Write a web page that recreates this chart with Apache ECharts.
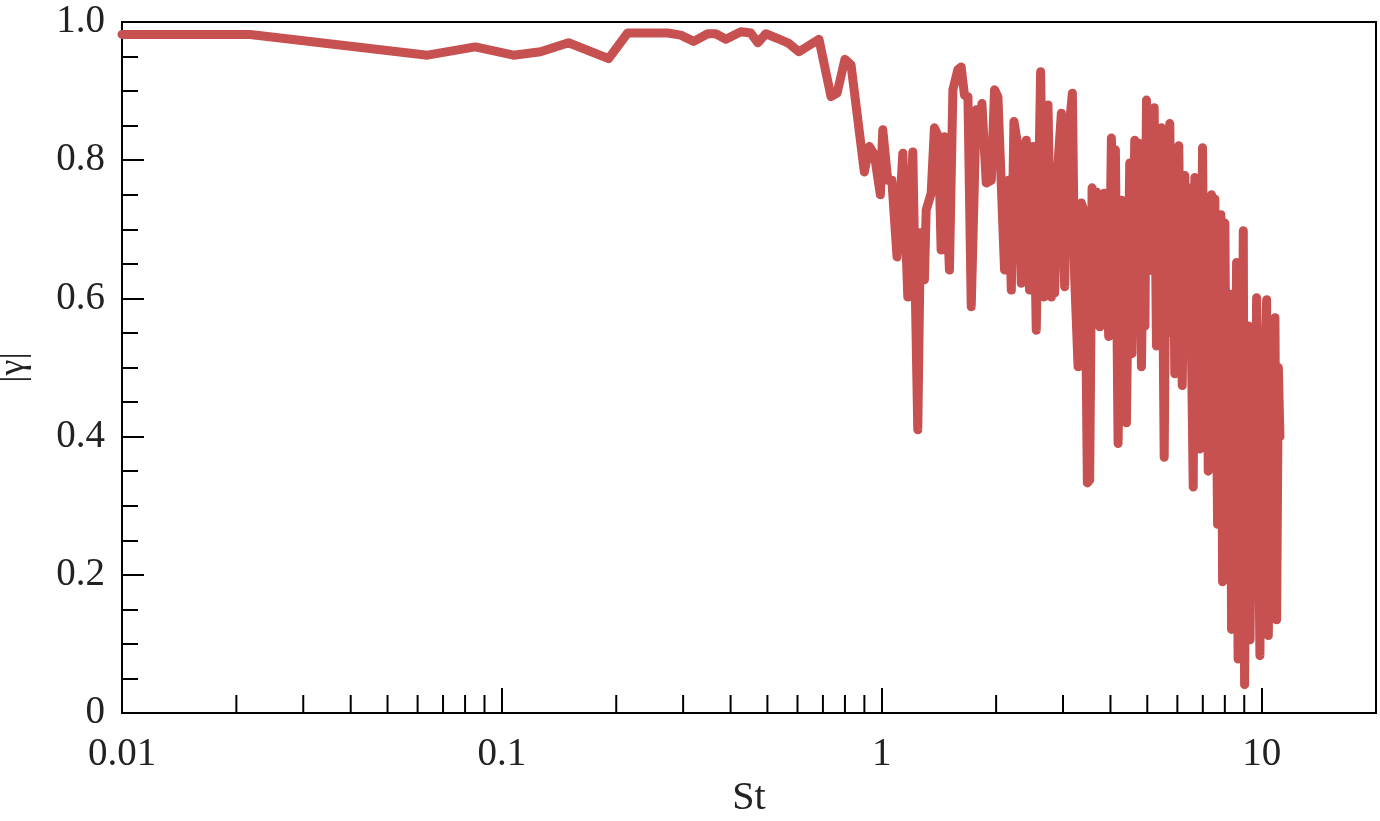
<!DOCTYPE html>
<html>
<head>
<meta charset="utf-8">
<script src="https://cdn.jsdelivr.net/npm/echarts@6/dist/echarts.min.js"></script>
<style>
html,body{margin:0;padding:0;background:#fff;}
#chart{width:1380px;height:821px;}
</style>
</head>
<body>
<div id="chart"></div>
<script>
// Strouhal number (x, log scale)
var st = [
0.0100,0.02175,0.0637,0.0851,0.1073,0.1264,0.1498,0.1910,0.2143,0.2732,
0.2956,0.3199,0.3483,0.3656,0.3886,0.4256,0.4521,0.4719,0.4953,0.5426,
0.5694,0.6053,0.6834,0.7352,0.7625,0.8000,0.8300,0.8998,0.9275,0.9561,
0.9915,1.006,1.037,1.063,1.097,1.136,1.171,1.207,1.244,1.264,
1.295,1.309,1.349,1.376,1.410,1.433,1.462,1.507,1.539,1.586,
1.618,1.651,1.686,1.720,1.773,1.809,1.835,1.884,1.942,1.981,
2.022,2.105,2.153,2.193,2.228,2.284,2.329,2.401,2.449,2.501,
2.551,2.619,2.673,2.739,2.795,2.824,2.851,2.911,2.970,3.030,3.093,
3.175,3.219,3.287,3.353,3.421,3.477,3.526,3.578,3.624,3.672,3.747,
3.848,3.957,4.023,4.072,4.121,4.189,4.275,4.406,4.495,4.556,4.634,4.682,4.731,4.782,
4.826,4.885,4.930,4.975,5.051,5.128,5.213,5.286,5.341,5.393,
5.449,5.539,5.600,5.661,5.731,5.790,5.850,5.907,5.979,6.016,
6.052,6.115,6.179,6.277,6.342,6.408,6.470,6.537,6.605,6.670,
6.739,6.809,6.875,6.989,7.040,7.087,7.160,7.235,7.381,7.458,
7.530,7.655,7.730,7.810,7.891,8.002,8.065,8.134,8.193,8.248,
8.334,8.410,8.487,8.590,8.669,8.748,8.828,8.947,9.018,9.117,
9.223,9.324,9.438,9.553,9.699,9.896,9.998,10.102,10.200,10.306,
10.413,10.528,10.637,10.754,10.839,10.951,11.065,11.173
];
// coherence magnitude |gamma|
var gamma = [
0.982,0.982,0.952,0.964,0.952,0.957,0.970,0.947,0.984,0.984,
0.981,0.972,0.983,0.983,0.975,0.986,0.984,0.970,0.983,0.974,
0.969,0.957,0.975,0.892,0.897,0.946,0.938,0.783,0.820,0.808,
0.750,0.844,0.771,0.771,0.660,0.810,0.602,0.812,0.410,0.695,
0.627,0.728,0.752,0.847,0.834,0.670,0.834,0.641,0.902,0.931,
0.935,0.894,0.892,0.588,0.873,0.829,0.882,0.767,0.771,0.902,
0.892,0.641,0.771,0.612,0.856,0.820,0.622,0.829,0.612,0.820,
0.554,0.928,0.602,0.880,0.602,0.780,0.608,0.796,0.868,0.617,0.829,
0.897,0.631,0.501,0.738,0.723,0.333,0.337,0.760,0.580,0.754,0.559,
0.752,0.545,0.832,0.600,0.815,0.390,0.742,0.420,0.796,0.520,0.829,0.580,0.825,0.780,
0.501,0.720,0.560,0.887,0.640,0.840,0.876,0.531,0.790,0.600,
0.847,0.370,0.700,0.550,0.853,0.620,0.770,0.491,0.720,0.580,
0.821,0.600,0.474,0.778,0.560,0.760,0.738,0.520,0.327,0.775,
0.500,0.720,0.382,0.818,0.580,0.491,0.700,0.350,0.750,0.450,
0.744,0.273,0.660,0.721,0.190,0.709,0.420,0.250,0.550,0.606,
0.121,0.500,0.280,0.652,0.078,0.450,0.220,0.698,0.041,0.480,
0.560,0.106,0.500,0.180,0.601,0.083,0.450,0.200,0.500,0.598,
0.112,0.480,0.150,0.520,0.572,0.135,0.500,0.400
];
var xMin = 0.01, xMax = 20;
var yTicks = [0, 0.2, 0.4, 0.6, 0.8, 1.0];
var xMinorTicks = [0.02,0.03,0.04,0.05,0.06,0.07,0.08,0.09,
                   0.2,0.3,0.4,0.5,0.6,0.7,0.8,0.9,
                   2,3,4,5,6,7,8,9];

var pts = st.map(function (s, i) { return [s, gamma[i]]; });
var FONT = 'Liberation Serif';
var chart = echarts.init(document.getElementById('chart'), null, {renderer: 'canvas'});
chart.setOption({
  animation: false,
  backgroundColor: '#fff',
  grid: {left: 122, top: 22, right: 4, bottom: 108, show: true,
         outerBoundsMode: 'none', containLabel: false,
         borderColor: '#000', borderWidth: 2, backgroundColor: 'transparent'},
  xAxis: {
    type: 'log', logBase: 10, min: xMin, max: xMax,
    name: 'St', nameLocation: 'middle', nameGap: 62,
    nameTextStyle: {fontFamily: FONT, fontSize: 40, color: '#222'},
    axisLine: {show: true, lineStyle: {color: '#000', width: 2}},
    axisTick: {show: true, inside: true, length: 25, lineStyle: {color: '#000', width: 2}},
    axisLabel: {fontFamily: FONT, fontSize: 39, color: '#222', margin: 22,
                showMaxLabel: false,
                formatter: function (v) {
                  var l = Math.log10(v);
                  if (Math.abs(l - Math.round(l)) > 1e-6) return '';
                  return String(Math.round(v * 100) / 100);
                }},
    splitLine: {show: false}
  },
  yAxis: {
    type: 'value', min: yTicks[0], max: yTicks[yTicks.length - 1], interval: 0.2,
    name: '|\u03b3|', nameLocation: 'middle', nameGap: 90, nameRotate: 90,
    nameTextStyle: {fontFamily: FONT, fontSize: 36, color: '#222'},
    axisLine: {show: true, lineStyle: {color: '#000', width: 2}},
    axisTick: {show: true, inside: true, length: 22, lineStyle: {color: '#000', width: 2}},
    minorTick: {show: true, splitNumber: 4, length: 16, lineStyle: {color: '#000', width: 2}},
    axisLabel: {fontFamily: FONT, fontSize: 39, color: '#222', margin: 17,
                formatter: function (v) { return v === 0 ? '0' : v.toFixed(1); }},
    splitLine: {show: false}
  },
  series: [
    {
      type: 'line', data: pts, showSymbol: false, symbol: 'none',
      lineStyle: {color: '#c75050', width: 9, join: 'round', cap: 'round'},
      z: 3
    },
    {
      type: 'custom', silent: true, z: 4,
      data: xMinorTicks.map(function (v) { return [v, 0]; }),
      renderItem: function (params, api) {
        var p = api.coord([api.value(0), api.value(1)]);
        return {type: 'line', shape: {x1: p[0], y1: p[1], x2: p[0], y2: p[1] - 18},
                style: {stroke: '#000', lineWidth: 2}};
      }
    }
  ]
});
</script>
</body>
</html>
